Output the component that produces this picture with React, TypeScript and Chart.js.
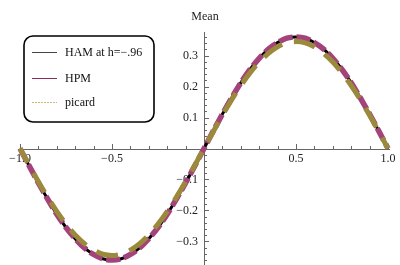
import React, { useEffect, useRef } from "react";
import { Chart, registerables } from "chart.js";

Chart.register(...registerables);

const xValues = [
  -1, -0.95, -0.9, -0.85, -0.8, -0.75, -0.7, -0.65, -0.6, -0.55, -0.5,
  -0.45, -0.4, -0.35, -0.3, -0.25, -0.2, -0.15, -0.1, -0.05, 0,
  0.05, 0.1, 0.15, 0.2, 0.25, 0.3, 0.35, 0.4, 0.45, 0.5,
  0.55, 0.6, 0.65, 0.7, 0.75, 0.8, 0.85, 0.9, 0.95, 1,
];
const hamValues = [
  0, -0.056, -0.111, -0.163, -0.212, -0.255, -0.291, -0.321, -0.342, -0.356, -0.36,
  -0.356, -0.342, -0.321, -0.291, -0.255, -0.212, -0.163, -0.111, -0.056, 0,
  0.056, 0.111, 0.163, 0.212, 0.255, 0.291, 0.321, 0.342, 0.356, 0.36,
  0.356, 0.342, 0.321, 0.291, 0.255, 0.212, 0.163, 0.111, 0.056, 0,
];
const hpmValues = [
  0, -0.056, -0.111, -0.163, -0.212, -0.255, -0.291, -0.321, -0.342, -0.356, -0.36,
  -0.356, -0.342, -0.321, -0.291, -0.255, -0.212, -0.163, -0.111, -0.056, 0,
  0.056, 0.111, 0.163, 0.212, 0.255, 0.291, 0.321, 0.342, 0.356, 0.36,
  0.356, 0.342, 0.321, 0.291, 0.255, 0.212, 0.163, 0.111, 0.056, 0,
];
const picardValues = [
  0, -0.054, -0.107, -0.157, -0.203, -0.244, -0.279, -0.307, -0.328, -0.341, -0.345,
  -0.341, -0.328, -0.307, -0.279, -0.244, -0.203, -0.157, -0.107, -0.054, 0,
  0.054, 0.107, 0.157, 0.203, 0.244, 0.279, 0.307, 0.328, 0.341, 0.345,
  0.341, 0.328, 0.307, 0.279, 0.244, 0.203, 0.157, 0.107, 0.054, 0,
];
const xTickLabels = [
  { v: -1, t: "\u22121.0" },
  { v: -0.5, t: "\u22120.5" },
  { v: 0.5, t: "0.5" },
  { v: 1, t: "1.0" },
];
const yTickLabels = [
  { v: 0.3, t: "0.3" },
  { v: 0.2, t: "0.2" },
  { v: 0.1, t: "0.1" },
  { v: -0.1, t: "\u22120.1" },
  { v: -0.2, t: "\u22120.2" },
  { v: -0.3, t: "\u22120.3" },
];
const legendLabels = ["HAM at h=\u2212.96", "HPM", "picard"];
const axisTitle = "Mean";

const FONT = "12px 'Liberation Serif', 'DejaVu Serif', serif";
const COL_HAM = "#000000";
const COL_HPM = "#a3437a";
const COL_PIC = "#9b8a3c";

const axesPlugin = {
  id: "mathAxes",
  beforeDatasetsDraw(chart: any) {
    const ctx = chart.ctx;
    const xs = chart.scales.x;
    const ys = chart.scales.y;
    const x0 = xs.getPixelForValue(0);
    const y0 = ys.getPixelForValue(0);
    const area = chart.chartArea;
    ctx.save();
    ctx.strokeStyle = "#666";
    ctx.lineWidth = 1;
    // x axis
    ctx.beginPath();
    ctx.moveTo(area.left - 2, Math.round(y0) + 0.5);
    ctx.lineTo(area.right + 2, Math.round(y0) + 0.5);
    ctx.stroke();
    // y axis
    ctx.beginPath();
    ctx.moveTo(Math.round(x0) + 0.5, area.top);
    ctx.lineTo(Math.round(x0) + 0.5, area.bottom);
    ctx.stroke();
    // x ticks
    for (let i = -10; i <= 10; i++) {
      if (i === 0) continue;
      const v = i / 10;
      const px = Math.round(xs.getPixelForValue(v)) + 0.5;
      const major = i % 5 === 0;
      ctx.beginPath();
      ctx.moveTo(px, Math.round(y0));
      ctx.lineTo(px, Math.round(y0) - (major ? 5 : 3));
      ctx.stroke();
    }
    // y ticks
    for (let i = -18; i <= 18; i++) {
      if (i === 0) continue;
      const v = i / 50;
      const py = Math.round(ys.getPixelForValue(v)) + 0.5;
      const major = i % 5 === 0;
      ctx.beginPath();
      ctx.moveTo(Math.round(x0), py);
      ctx.lineTo(Math.round(x0) + (major ? 5 : 3), py);
      ctx.stroke();
    }
    ctx.fillStyle = "#222";
    ctx.font = FONT;
    ctx.textAlign = "center";
    ctx.textBaseline = "middle";
    for (const l of xTickLabels) {
      ctx.fillText(l.t, xs.getPixelForValue(l.v), y0 + 10);
    }
    ctx.textAlign = "right";
    for (const l of yTickLabels) {
      ctx.fillText(l.t, x0 - 6, ys.getPixelForValue(l.v));
    }
    ctx.textAlign = "center";
    ctx.fillText(axisTitle, x0 + 1, 17);
    ctx.restore();
  },
  afterDatasetsDraw(chart: any) {
    const ctx = chart.ctx;
    ctx.save();
    // legend box
    const bx = 24, by = 36, bw = 130, bh = 86, r = 9;
    ctx.beginPath();
    ctx.moveTo(bx + r, by);
    ctx.arcTo(bx + bw, by, bx + bw, by + bh, r);
    ctx.arcTo(bx + bw, by + bh, bx, by + bh, r);
    ctx.arcTo(bx, by + bh, bx, by, r);
    ctx.arcTo(bx, by, bx + bw, by, r);
    ctx.closePath();
    ctx.fillStyle = "#fff";
    ctx.fill();
    ctx.strokeStyle = "#000";
    ctx.lineWidth = 1.6;
    ctx.stroke();
    const rows = [52, 78, 102];
    const cols = ["#444", "#8a2d5c", "#c9b872"];
    const dashes = [[], [], [2, 1]];
    for (let i = 0; i < 3; i++) {
      ctx.beginPath();
      ctx.setLineDash(dashes[i]);
      ctx.strokeStyle = cols[i];
      ctx.lineWidth = 1;
      ctx.moveTo(32, rows[i] + 0.5);
      ctx.lineTo(57, rows[i] + 0.5);
      ctx.stroke();
    }
    ctx.setLineDash([]);
    ctx.fillStyle = "#111";
    ctx.font = FONT;
    ctx.textAlign = "left";
    ctx.textBaseline = "middle";
    for (let i = 0; i < 3; i++) {
      ctx.fillText(legendLabels[i], 65, rows[i] + 1);
    }
    ctx.restore();
  },
};

export default function App() {
  const ref = useRef<HTMLCanvasElement | null>(null);
  useEffect(() => {
    if (!ref.current) return;
    const mk = (vals: number[]) => xValues.map((x, i) => ({ x, y: vals[i] }));
    const chart = new Chart(ref.current, {
      type: "line",
      data: {
        datasets: [
          {
            label: legendLabels[2],
            data: mk(picardValues),
            borderColor: COL_PIC,
            borderWidth: 5,
            borderDash: [22, 12],
            borderDashOffset: 6,
            pointRadius: 0,
            tension: 0.3,
            fill: false,
            clip: false,
            order: 0,
          },
          {
            label: legendLabels[1],
            data: mk(hpmValues),
            borderColor: COL_HPM,
            borderWidth: 5.5,
            borderDash: [14, 4],
            pointRadius: 0,
            tension: 0.3,
            fill: false,
            clip: false,
            order: 1,
          },
          {
            label: legendLabels[0],
            data: mk(hamValues),
            borderColor: COL_HAM,
            borderWidth: 3,
            pointRadius: 0,
            tension: 0.3,
            fill: false,
            clip: false,
            order: 2,
          },
        ],
      },
      options: {
        responsive: false,
        animation: false,
        layout: { padding: { left: 20, right: 12, top: 32, bottom: 0 } },
        plugins: { legend: { display: false }, tooltip: { enabled: false } },
        scales: {
          x: { type: "linear", min: -1, max: 1, display: false },
          y: { type: "linear", min: -0.376, max: 0.376, display: false },
        },
      },
      plugins: [axesPlugin],
    } as any);
    return () => chart.destroy();
  }, []);
  return (
    <div style={{ position: "fixed", left: 0, top: 0, width: 400, height: 265, background: "#fff" }}>
      <canvas ref={ref} width={400} height={265} />
    </div>
  );
}
